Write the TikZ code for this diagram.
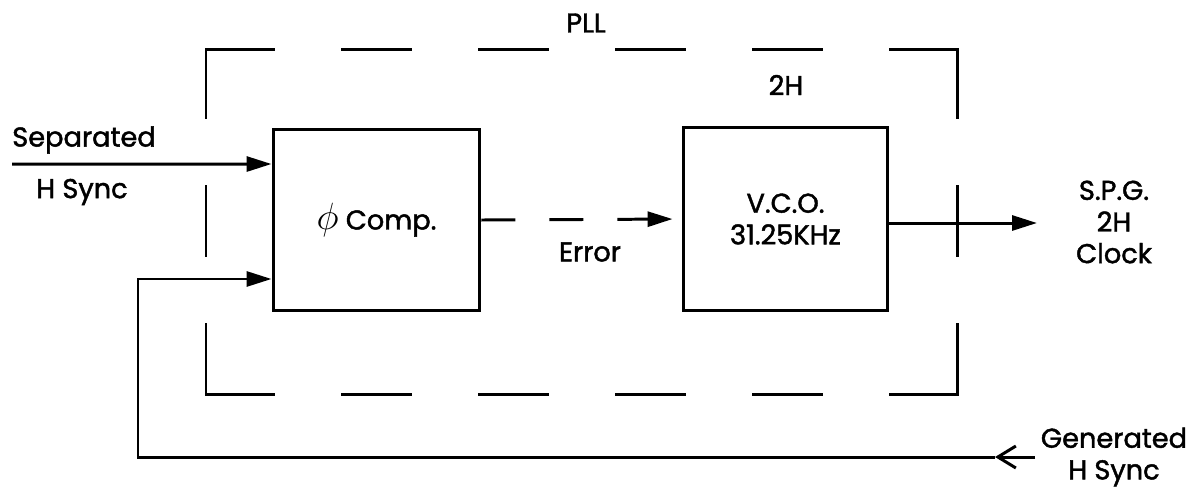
\documentclass[tikz,border=0pt]{standalone}
\usepackage{fontspec}
\setmainfont{Poppins}[FakeBold=1.6]
\usetikzlibrary{arrows.meta}

\begin{document}
\begin{tikzpicture}[x=0.02cm, y=-0.02cm, line width=1.7pt,
  font=\fontsize{15.5}{18}\selectfont,
  block/.style={draw, minimum width=4.14cm, minimum height=3.64cm, inner sep=0pt, align=center},
  sig/.style={-{Triangle[length=0.5cm,width=0.3cm]}},
  pllh/.style={dash pattern=on 1.36cm off 1.38cm, line cap=rect},
  pllv/.style={dash pattern=on 1.38cm off 1.38cm, line cap=rect},
  errdash/.style={dash pattern=on 0.68cm off 0.68cm},
  lbl/.style={align=center, inner sep=0pt}]
  \useasboundingbox (0,0) rectangle (1201,488);
  % PLL boundary
  \coordinate (pllnw) at (206,49);
  \coordinate (pllne) at (957,49);
  \coordinate (pllse) at (957,394);
  \coordinate (pllsw) at (206,394);
  \draw[pllh] (pllnw) -- (pllne);
  \draw[pllh] (pllsw) -- (pllse);
  \draw[pllv] (pllnw) -- (pllsw);
  \draw[pllv] (pllne) -- (pllse);
  \node[lbl] (pll) at (586,23) {PLL};
  \node[lbl] (twoh) at (786,85) {2H};
  % Blocks
  \node[block] (comp) at (376.5,220) {\scalebox{1.5}{$\phi$} Comp.};
  \node[block, minimum width=4.1cm, minimum height=3.68cm] (vco) at (785.5,219) {V.C.O.\\31.25KHz};
  % Input
  \coordinate (sepin) at (12,164);
  \draw[sig] (sepin) -- ([yshift=1.12cm]comp.west);
  \node[lbl] (septop) at (84,140) {Separated};
  \node[lbl] (sepbot) at (82,192) {H Sync};
  % Error and output
  \draw[sig, errdash, shorten >=0.18cm] (comp.east) -- (vco.west);
  \node[lbl] (err) at (590,252) {Error};
  \coordinate (outtip) at (1037,223);
  \draw[sig] (vco.east |- outtip) -- (outtip);
  \node[lbl] (spg) at (1114,222) {S.P.G.\\2H\\Clock};
  % Feedback
  \coordinate (genin) at (1035,457);
  \coordinate (genarr) at (995,457);
  \coordinate (fbcorner) at (138,457);
  \draw[-{Straight Barb[length=0.36cm,width=0.44cm]}] (genin) -- (genarr);
  \draw[sig] (genarr) -- (fbcorner) |- ([yshift=-1.18cm]comp.west);
  \node[lbl] (gen) at (1114,457) {Generated\\H Sync};
\end{tikzpicture}
\end{document}
